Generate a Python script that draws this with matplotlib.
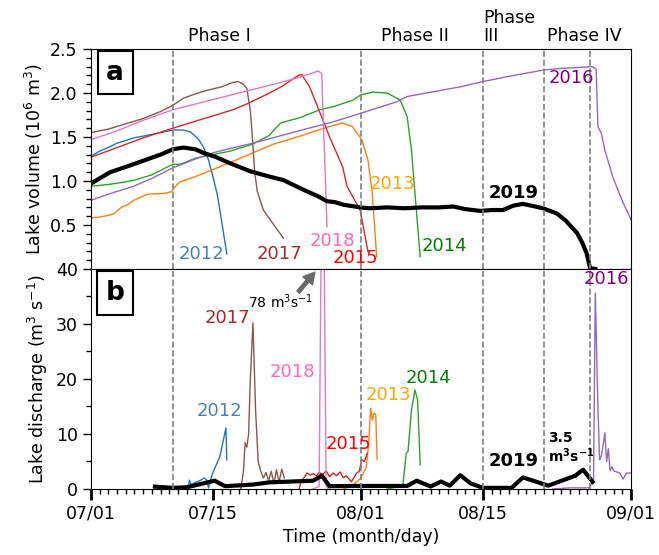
import numpy as np
import matplotlib
matplotlib.use('Agg')
import matplotlib.pyplot as plt

# days since 07/01
tick_days = [0, 14, 31, 45, 62]
tick_labels = ['07/01', '07/15', '08/01', '08/15', '09/01']
phase_lines = [9.4, 31, 45, 52, 57.3]

# lake volume (10^6 m3)
v2012_t = [0, 1, 2.2, 3, 4, 4.9, 6, 7, 8, 9.4, 10.5, 11.4, 12.3, 12.9, 13.5, 14, 14.5, 14.8, 15.2, 15.6]
v2012 = [1.28, 1.34, 1.39, 1.43, 1.46, 1.49, 1.51, 1.53, 1.55, 1.58, 1.58, 1.56, 1.48, 1.39, 1.24, 1.05, 0.85, 0.67, 0.42, 0.17]
v2013_t = [0, 1, 2, 2.7, 3.0, 3.5, 4.2, 4.9, 6.5, 8.5, 9.3, 9.6, 10.2, 12, 14, 16, 18.6, 21, 24, 25.5, 27.4, 28.9, 30, 31.1, 31.8, 32.3, 32.8]
v2013 = [0.58, 0.59, 0.61, 0.63, 0.66, 0.70, 0.73, 0.78, 0.85, 0.86, 0.88, 0.93, 0.99, 1.05, 1.13, 1.21, 1.32, 1.42, 1.51, 1.56, 1.62, 1.66, 1.62, 1.47, 1.24, 0.86, 0.14]
v2014_t = [0, 2, 4, 5, 7, 9, 9.4, 10.3, 12, 14, 16, 18.6, 20.5, 21.2, 21.8, 24, 26.3, 28, 30.1, 31, 32.4, 34, 35.5, 36.3, 36.8, 37.2, 37.8]
v2014 = [0.94, 0.96, 0.99, 1.01, 1.07, 1.17, 1.19, 1.19, 1.26, 1.30, 1.34, 1.42, 1.52, 1.60, 1.66, 1.72, 1.81, 1.85, 1.92, 1.98, 2.01, 2.00, 1.92, 1.73, 1.35, 0.86, 0.14]
v2015_t = [0, 3, 6, 9.4, 12, 14, 16.3, 18, 20.5, 22, 23.8, 24.2, 25.1, 26.2, 27.4, 28.9, 29.4, 30.9, 31.8]
v2015 = [1.27, 1.38, 1.49, 1.60, 1.68, 1.74, 1.81, 1.88, 2.00, 2.08, 2.20, 2.21, 2.07, 1.80, 1.50, 1.16, 0.94, 0.67, 0.20]
v2016_t = [0, 2, 4.9, 7, 9.4, 12, 14, 16, 18.6, 22, 25, 27.4, 31, 33.2, 35.1, 36.3, 42.4, 45, 48, 51.9, 54, 56, 57.6, 58.0, 58.2, 58.6, 59.0, 59.9, 61.1, 62]
v2016 = [0.78, 0.85, 0.94, 1.03, 1.15, 1.25, 1.32, 1.37, 1.43, 1.52, 1.60, 1.66, 1.77, 1.84, 1.90, 1.96, 2.07, 2.13, 2.19, 2.26, 2.28, 2.29, 2.30, 2.27, 1.62, 1.54, 1.35, 1.05, 0.75, 0.56]
v2017_t = [0, 2, 4, 6, 8, 9.4, 10.6, 12, 13.3, 15, 16.3, 16.9, 17.5, 17.9, 18.3, 18.5, 18.8, 19.1, 19.8, 20.5, 21.3, 22.1]
v2017 = [1.55, 1.59, 1.65, 1.71, 1.79, 1.86, 1.94, 1.99, 2.03, 2.07, 2.12, 2.13, 2.10, 2.05, 1.80, 1.54, 1.10, 0.88, 0.67, 0.57, 0.46, 0.35]
v2018_t = [0, 3, 6, 9.4, 13, 17, 21, 24, 26.1, 26.5, 26.6, 26.8, 27.0, 27.1]
v2018 = [1.47, 1.57, 1.69, 1.81, 1.90, 2.00, 2.10, 2.18, 2.25, 2.22, 1.90, 1.35, 0.78, 0.48]
v2019_t = [0, 1, 2.2, 4, 6, 8, 9.4, 10.6, 12, 12.9, 14.4, 16, 18.3, 20.5, 22.1, 24.4, 26, 27.1, 28, 29, 30.9, 32, 34, 36, 38,
           40, 41.6, 43, 44.7, 46, 47.3, 48.5, 49.6, 51, 51.9, 53.5, 54.5, 55.8, 56.4, 56.9, 57.3, 57.9]
v2019 = [0.97, 1.03, 1.10, 1.16, 1.23, 1.30, 1.36, 1.38, 1.36, 1.32, 1.27, 1.20, 1.11, 1.05, 1.01, 0.90, 0.83, 0.77, 0.76, 0.73, 0.70, 0.69, 0.70, 0.69, 0.70,
         0.70, 0.71, 0.68, 0.66, 0.67, 0.67, 0.72, 0.74, 0.71, 0.69, 0.63, 0.55, 0.41, 0.30, 0.18, 0.01, 0.0]

# lake discharge (m3 s-1)
q2012_t = [11.2, 11.3, 11.5, 12, 12.5, 13, 13.3, 13.5, 13.9, 14.8, 15.5, 15.6]
q2012 = [0.0, 1.6, 0.8, 1.2, 1.5, 2.0, 1.6, 0.2, 2.6, 5.9, 11.1, 5.3]
q2013_t = [29.0, 30.0, 31.0, 31.6, 31.9, 32.1, 32.3, 32.5, 32.7, 32.85]
q2013 = [0.0, 0.6, 2.0, 3.9, 8.5, 14.7, 12.5, 13.8, 13.5, 5.4]
q2014_t = [34.0, 35.0, 35.8, 36.0, 36.2, 36.4, 36.8, 37.2, 37.5, 37.8]
q2014 = [0.0, 0.3, 0.6, 3.5, 6.5, 6.8, 14.4, 18.0, 16.2, 4.4]
q2015_t = [23.9, 24.1, 24.8, 25.2, 25.5, 25.9, 26.2, 26.6, 27, 27.4, 27.8, 28.2, 28.6, 29.0, 29.3, 29.9, 30.5, 30.8, 31.1, 31.4, 31.7]
q2015 = [0.0, 1.2, 2.9, 2.5, 2.8, 2.4, 3.0, 2.6, 3.3, 2.2, 2.9, 2.4, 3.1, 2.0, 2.4, 1.3, 2.9, 3.2, 5.3, 5.0, 6.5]
q2016_t = [53.0, 55.0, 57.2, 57.7, 57.9, 58.2, 58.4, 58.6, 58.8, 59.0, 59.2, 59.4, 59.6, 59.8, 60.0, 60.7, 61.1, 61.5, 62.0]
q2016 = [0.0, 0.2, 0.2, 1.6, 35.6, 15.0, 5.3, 6.0, 8.0, 10.2, 5.0, 7.3, 3.3, 4.0, 3.3, 2.9, 1.8, 2.9, 2.9]
q2017_t = [17.2, 17.5, 17.7, 17.9, 18.1, 18.3, 18.6, 18.9, 19.2, 19.5, 19.8, 20.1, 20.4, 20.7, 21.0, 21.3, 21.6, 21.9, 22.2]
q2017 = [0.0, 3.0, 8.4, 7.6, 10.0, 20.0, 30.2, 14.4, 5.0, 3.2, 2.0, 3.0, 1.5, 3.2, 1.0, 3.5, 1.2, 3.6, 2.0]
q2018_t = [25.5, 26.2, 26.6, 27.0, 27.3]
q2018 = [0.0, 0.5, 78.0, 0.5, 0.0]
q2019_t = [7.35, 9.4, 11, 14.2, 15.4, 18.6, 20.5, 25.5, 26.5, 27.4, 30, 34, 36.3, 37.4, 39.0, 40.2, 41.2, 42.4, 43.6, 45,
           48.3, 49.6, 52.5, 55.6, 56.5, 57.6]
q2019 = [0.42, 0.2, 0.3, 1.5, 0.5, 0.8, 1.2, 1.5, 2.4, 0.5, 0.55, 0.55, 0.55, 1.5, 0.45, 1.35, 0.6, 2.5, 1.0, 0.2,
         0.2, 2.1, 0.6, 2.4, 3.5, 1.3]

years = ['2012', '2013', '2014', '2015', '2016', '2017', '2018']
line_colors = ['C0', 'C1', 'C2', 'C3', 'C4', 'C5', 'C6']
label_colors = ['steelblue', 'orange', 'green', 'red', 'purple', 'brown', 'hotpink']
vol = [(v2012_t, v2012), (v2013_t, v2013), (v2014_t, v2014), (v2015_t, v2015),
       (v2016_t, v2016), (v2017_t, v2017), (v2018_t, v2018)]
dis = [(q2012_t, q2012), (q2013_t, q2013), (q2014_t, q2014), (q2015_t, q2015),
       (q2016_t, q2016), (q2017_t, q2017), (q2018_t, q2018)]

# label positions (day, value)
vol_lab = [(12.7, 0.17), (34.6, 0.97), (40.6, 0.26), (30.4, 0.125), (55.2, 2.17), (21.6, 0.17), (27.7, 0.32)]
dis_lab = [(14.7, 14.2), (34.1, 17.1), (38.7, 20.2), (29.6, 8.2), (59.2, 38.2), (15.7, 31.1), (23.1, 21.3)]

fig, (ax1, ax2) = plt.subplots(2, 1, sharex=True, figsize=(6.59, 5.55), dpi=100)
plt.subplots_adjust(left=0.138, right=0.9575, top=0.9117, bottom=0.119, hspace=0)

for i in range(len(years)):
    ax1.plot(vol[i][0], vol[i][1], color=line_colors[i], lw=1)
    ax2.plot(dis[i][0], dis[i][1], color=line_colors[i], lw=1)
    ax1.text(vol_lab[i][0], vol_lab[i][1], years[i], color=label_colors[i], fontsize=13, ha='center', va='center')
    ax2.text(dis_lab[i][0], dis_lab[i][1], years[i], color=label_colors[i], fontsize=13, ha='center', va='center')

ax1.plot(v2019_t, v2019, color='k', lw=3)
ax2.plot(q2019_t, q2019, color='k', lw=3)
ax1.text(48.5, 0.865, '2019', fontsize=13, fontweight='bold', ha='center', va='center')
ax2.text(48.5, 5.1, '2019', fontsize=13, fontweight='bold', ha='center', va='center')

# arrow for the 2018 peak that goes off the axis
ax2.annotate('', xy=(25.7, 39.4), xytext=(23.8, 35.8),
             arrowprops=dict(facecolor='dimgray', edgecolor='dimgray', width=2.5, headwidth=9, headlength=8))
ax2.text(21.8, 34.0, '78 m$^3$s$^{-1}$', fontsize=10, ha='center', va='center')
ax2.text(52.5, 7.4, '3.5\nm$^\\mathbf{3}$s$^\\mathbf{-1}$', fontsize=10, fontweight='bold', ha='left', va='center',
         linespacing=1.1)

for ax in (ax1, ax2):
    for d in phase_lines:
        ax.axvline(d, color='gray', ls='--', lw=1.2)
    ax.set_xlim(0, 62)
    ax.tick_params(which='major', direction='out', length=6, width=1, labelsize=12.5)
    ax.tick_params(which='minor', direction='out', length=3.5, width=1)
    ax.tick_params(axis='x', which='major', length=8, width=2)

ax1.set_ylim(0, 2.5)
ax1.set_yticks([0.5, 1.0, 1.5, 2.0, 2.5])
ax1.set_yticks(np.arange(0.1, 2.5, 0.1), minor=True)
ax1.set_ylabel('Lake volume (10$^6$ m$^3$)', fontsize=12.5)
ax2.set_ylim(0, 40)
ax2.set_yticks([0, 10, 20, 30, 40])
ax2.set_yticks([5, 15, 25, 35], minor=True)
ax2.set_ylabel('Lake discharge (m$^3$ s$^{-1}$)', fontsize=12.5)
ax2.set_xticks(tick_days)
ax2.set_xticklabels(tick_labels)
ax2.set_xticks(np.arange(0, 63, 1), minor=True)
ax2.set_xlabel('Time (month/day)', fontsize=12.5)
ax1.tick_params(axis='x', which='both', length=0)

box = dict(boxstyle='square,pad=0.33', facecolor='white', edgecolor='black', lw=1.5)
ax1.text(0.045, 0.893, 'a', transform=ax1.transAxes, fontsize=19, fontweight='bold', ha='center', va='center', bbox=box)
ax2.text(0.045, 0.891, 'b', transform=ax2.transAxes, fontsize=19, fontweight='bold', ha='center', va='center', bbox=box)

trans = ax1.get_xaxis_transform()
ax1.text(14.8, 1.02, 'Phase I', transform=trans, fontsize=12.5, ha='center', va='bottom')
ax1.text(37.2, 1.02, 'Phase II', transform=trans, fontsize=12.5, ha='center', va='bottom')
ax1.text(45.0, 1.02, 'Phase\nIII', transform=trans, fontsize=12.5, ha='left', va='bottom', linespacing=1.0)
ax1.text(56.6, 1.02, 'Phase IV', transform=trans, fontsize=12.5, ha='center', va='bottom')

plt.savefig('out.png', dpi=100)
